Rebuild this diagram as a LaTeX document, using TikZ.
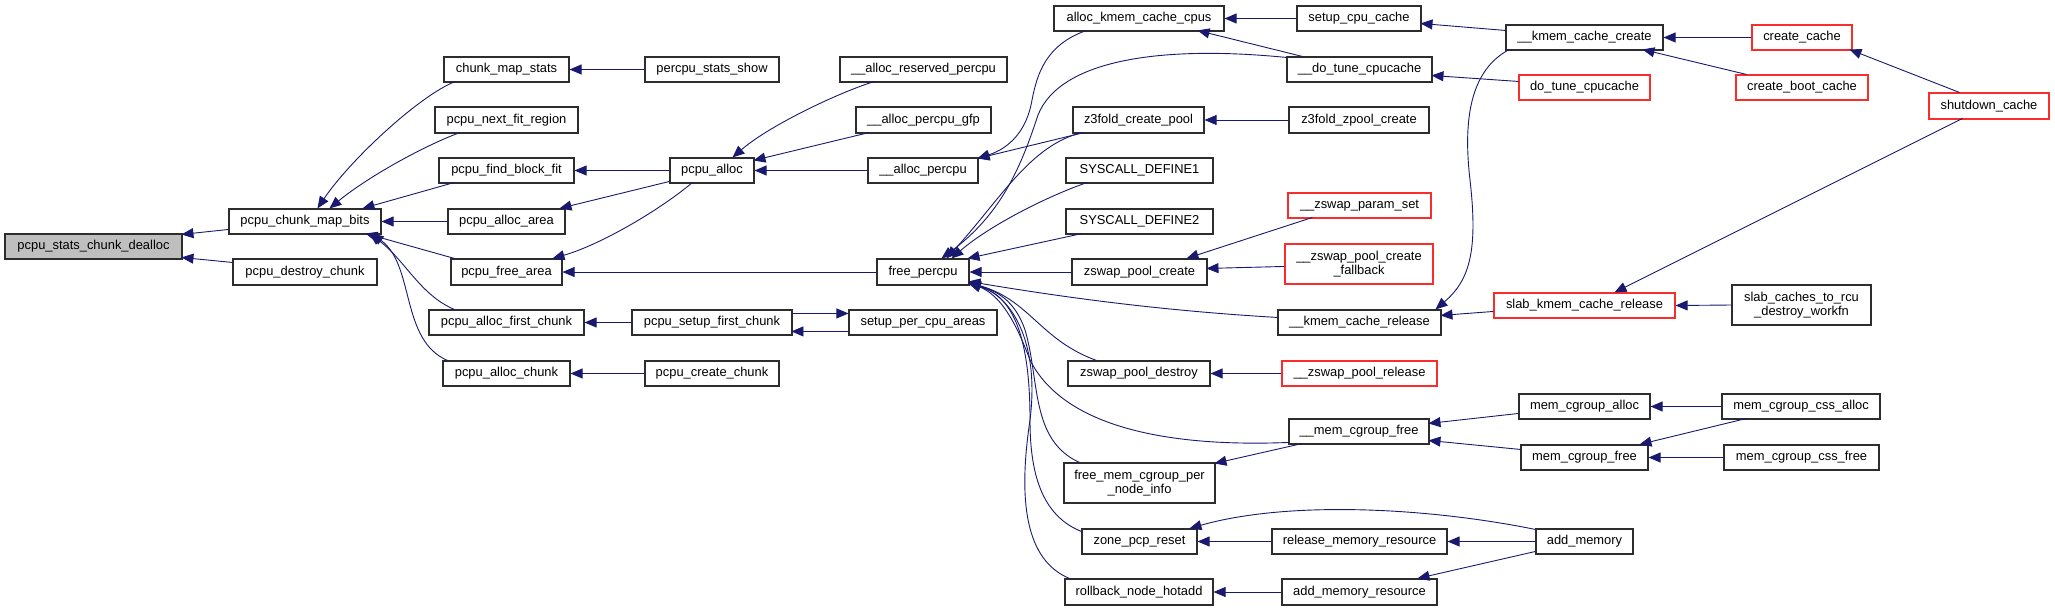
\documentclass[tikz,border=0pt]{standalone}
\usepackage{fontspec}
\setmainfont{Liberation Sans}
\usetikzlibrary{arrows.meta}
\definecolor{edgec}{RGB}{25,25,112}
\definecolor{redc}{RGB}{250,45,45}
\definecolor{rootfill}{RGB}{191,191,191}
\definecolor{bord}{RGB}{45,45,45}
\newcommand\mybox[7][]{\node[nbox,#1,minimum width={#4-#2},minimum height={#5-#3}] (#6) at ({(#2+#4)/2},{(#3+#5)/2}) {#7};}
\begin{document}
\begin{tikzpicture}[x=1pt,y=-1pt,
 nbox/.style={draw=bord,line width=1.1pt,fill=white,inner sep=0pt,align=center,font=\fontsize{12.9}{14.6}\selectfont},
 rbox/.style={draw=redc},
 gbox/.style={fill=rootfill},
 cedge/.style={draw=edgec,line width=0.9pt,-{Triangle[length=12pt,width=10pt]}}]
\useasboundingbox (0,0) rectangle (2055,611);
\fill[white] (0,0) rectangle (2055,611);
% nodes
\mybox[gbox]{5}{234}{182}{259}{dealloc}{pcpu\_stats\_chunk\_dealloc}
\mybox{229}{209}{381}{234}{cmb}{pcpu\_chunk\_map\_bits}
\mybox{233}{259}{377}{285}{destroy}{pcpu\_destroy\_chunk}
\mybox{444}{57}{569}{82}{cms}{chunk\_map\_stats}
\mybox{645}{57}{779}{82}{pss}{percpu\_stats\_show}
\mybox{435}{107}{578}{133}{nfr}{pcpu\_next\_fit\_region}
\mybox{439}{158}{574}{183}{fbf}{pcpu\_find\_block\_fit}
\mybox{670}{158}{754}{183}{palloc}{pcpu\_alloc}
\mybox{448}{209}{565}{234}{paa}{pcpu\_alloc\_area}
\mybox{451}{259}{562}{285}{pfa}{pcpu\_free\_area}
\mybox{877}{259}{969}{285}{fp}{free\_percpu}
\mybox{429}{310}{584}{335}{pafc}{pcpu\_alloc\_first\_chunk}
\mybox{632}{310}{792}{335}{psfc}{pcpu\_setup\_first\_chunk}
\mybox{849}{310}{997}{335}{spca}{setup\_per\_cpu\_areas}
\mybox{443}{361}{570}{386}{pac}{pcpu\_alloc\_chunk}
\mybox{645}{361}{779}{386}{pcc}{pcpu\_create\_chunk}
\mybox{840}{57}{1007}{82}{arp}{\_\_alloc\_reserved\_percpu}
\mybox{856}{107}{991}{133}{apg}{\_\_alloc\_percpu\_gfp}
\mybox{868}{158}{978}{183}{ap}{\_\_alloc\_percpu}
\mybox{1054}{6}{1224}{31}{akcc}{alloc\_kmem\_cache\_cpus}
\mybox{1297}{6}{1421}{31}{scc}{setup\_cpu\_cache}
\mybox{1287}{57}{1432}{82}{dtc}{\_\_do\_tune\_cpucache}
\mybox{1073}{107}{1204}{133}{zcp}{z3fold\_create\_pool}
\mybox{1289}{107}{1429}{133}{zzc}{z3fold\_zpool\_create}
\mybox{1066}{158}{1213}{183}{sda}{SYSCALL\_DEFINE1}
\mybox{1066}{209}{1213}{234}{sdb}{SYSCALL\_DEFINE2}
\mybox{1072}{259}{1207}{285}{zpc}{zswap\_pool\_create}
\mybox[rbox]{1288}{193}{1431}{218}{zps}{\_\_zswap\_param\_set}
\mybox[rbox]{1285}{244}{1433}{284}{zpcf}{\_\_zswap\_pool\_create\\\_fallback}
\mybox{1506}{25}{1663}{50}{kcc}{\_\_kmem\_cache\_create}
\mybox[rbox]{1752}{25}{1852}{50}{cc}{create\_cache}
\mybox[rbox]{1519}{75}{1650}{100}{dtcb}{do\_tune\_cpucache}
\mybox[rbox]{1736}{75}{1868}{100}{cbc}{create\_boot\_cache}
\mybox[rbox]{1929}{93}{2049}{119}{sc}{shutdown\_cache}
\mybox[rbox]{1494}{293}{1675}{318}{skcr}{slab\_kmem\_cache\_release}
\mybox{1732}{285}{1871}{325}{sctr}{slab\_caches\_to\_rcu\\\_destroy\_workfn}
\mybox{1278}{310}{1441}{335}{kcr}{\_\_kmem\_cache\_release}
\mybox{1068}{361}{1210}{386}{zpd}{zswap\_pool\_destroy}
\mybox[rbox]{1282}{361}{1437}{386}{zpr}{\_\_zswap\_pool\_release}
\mybox{1289}{419}{1429}{444}{mcf}{\_\_mem\_cgroup\_free}
\mybox{1064}{463}{1215}{503}{fmc}{free\_mem\_cgroup\_per\\\_node\_info}
\mybox{1082}{529}{1197}{554}{zpcr}{zone\_pcp\_reset}
\mybox{1272}{529}{1447}{554}{rmr}{release\_memory\_resource}
\mybox{1065}{579}{1213}{605}{rnh}{rollback\_node\_hotadd}
\mybox{1282}{579}{1437}{605}{amr}{add\_memory\_resource}
\mybox{1519}{394}{1650}{419}{mca}{mem\_cgroup\_alloc}
\mybox{1521}{445}{1648}{470}{mcfr}{mem\_cgroup\_free}
\mybox{1722}{394}{1880}{419}{mcsa}{mem\_cgroup\_css\_alloc}
\mybox{1724}{445}{1879}{470}{mcsf}{mem\_cgroup\_css\_free}
\mybox{1536}{529}{1633}{554}{am}{add\_memory}
% edges
\draw[cedge] ([shift={(0,21)}]cmb.north west) -- ([shift={(177,1)}]dealloc.north west);
\draw[cedge] ([shift={(0,4)}]destroy.north west) -- ([shift={(177,24)}]dealloc.north west);
\draw[cedge] ([shift={(12,25)}]cms.north west) .. controls (420,95) and (350,160) .. ([shift={(89,0)}]cmb.north west);
\draw[cedge] ([shift={(26,26)}]nfr.north west) .. controls (430,143) and (370,175) .. ([shift={(101,0)}]cmb.north west);
\draw[cedge] ([shift={(16,25)}]fbf.north west) -- ([shift={(134,0)}]cmb.north west);
\draw[cedge] (paa.west) -- (cmb.east);
\draw[cedge] ([shift={(4,0)}]pfa.north west) -- ([shift={(137,25)}]cmb.north west);
\draw[cedge] ([shift={(26,0)}]pafc.north west) .. controls (420,295) and (405,260) .. ([shift={(141,25)}]cmb.north west);
\draw[cedge] ([shift={(5,0)}]pac.north west) .. controls (400,340) and (415,265) .. ([shift={(143,25)}]cmb.north west);
\draw[cedge] (pss.west) -- (cms.east);
\draw[cedge] (palloc.west) -- (fbf.east);
\draw[cedge] ([shift={(0,24)}]palloc.north west) -- ([shift={(112,0)}]paa.north west);
\draw[cedge] ([shift={(23,25)}]palloc.north west) .. controls (660,210) and (600,245) .. ([shift={(102,0)}]pfa.north west);
\draw[cedge] (fp.west) -- (pfa.east);
\draw[cedge] (psfc.west) -- (pafc.east);
\draw[cedge] ([shift={(160,4)}]psfc.north west) -- ([shift={(0,4)}]spca.north west);
\draw[cedge] ([shift={(0,22)}]spca.north west) -- ([shift={(160,22)}]psfc.north west);
\draw[cedge] (pcc.west) -- (pac.east);
\draw[cedge] ([shift={(35,25)}]arp.north west) .. controls (840,92) and (770,125) .. ([shift={(63,0)}]palloc.north west);
\draw[cedge] ([shift={(14,26)}]apg.north west) -- ([shift={(84,3)}]palloc.north west);
\draw[cedge] (ap.west) -- (palloc.east);
\draw[cedge] ([shift={(33,25)}]akcc.north west) .. controls (1045,45) and (1037,75) .. (1032,100) .. controls (1027,130) and (1010,148) .. ([shift={(110,1)}]ap.north west);
\draw[cedge] ([shift={(12,26)}]zcp.north west) -- ([shift={(110,1)}]ap.north west);
\draw[cedge] (scc.west) -- (akcc.east);
\draw[cedge] ([shift={(16,0)}]dtc.north west) -- ([shift={(144,25)}]akcc.north west);
\draw[cedge] ([shift={(0,6)}]kcc.north west) -- ([shift={(124,18)}]scc.north west);
\draw[cedge] ([shift={(0,7)}]dtcb.north west) -- ([shift={(145,19)}]dtc.north west);
\draw[cedge] (zzc.west) -- (zcp.east);
\draw[cedge] ([shift={(0,1)}]dtc.north west) .. controls (1160,45) and (1060,60) .. (1038,115) .. controls (1020,170) and (1000,215) .. ([shift={(65,0)}]fp.north west);
\draw[cedge] ([shift={(10,26)}]zcp.north west) .. controls (1030,145) and (1000,200) .. ([shift={(70,0)}]fp.north west);
\draw[cedge] ([shift={(22,25)}]sda.north west) .. controls (1050,195) and (990,225) .. ([shift={(75,0)}]fp.north west);
\draw[cedge] ([shift={(17,25)}]sdb.north west) -- ([shift={(91,0)}]fp.north west);
\draw[cedge] (zpc.west) -- (fp.east);
\draw[cedge] ([shift={(0,8)}]kcr.north west) .. controls (1150,310) and (1050,295) .. ([shift={(92,23)}]fp.north west);
\draw[cedge] ([shift={(29,0)}]zpd.north west) .. controls (1040,340) and (1030,300) .. ([shift={(92,24)}]fp.north west);
\draw[cedge] ([shift={(0,24)}]mcf.north west) .. controls (1150,448) and (1060,420) .. (1030,360) .. controls (1015,320) and (1000,295) .. ([shift={(92,24)}]fp.north west);
\draw[cedge] ([shift={(16,0)}]fmc.north west) .. controls (1030,440) and (1040,380) .. (1025,330) .. controls (1015,300) and (995,290) .. ([shift={(92,25)}]fp.north west);
\draw[cedge] ([shift={(0,3)}]zpcr.north west) .. controls (1040,515) and (1030,470) .. (1030,420) .. controls (1030,330) and (1010,295) .. ([shift={(92,25)}]fp.north west);
\draw[cedge] ([shift={(5,0)}]rnh.north west) .. controls (1025,560) and (1018,500) .. (1030,420) .. controls (1040,340) and (1010,295) .. ([shift={(92,25)}]fp.north west);
\draw[cedge] ([shift={(25,25)}]zps.north west) -- ([shift={(115,0)}]zpc.north west);
\draw[cedge] ([shift={(0,23)}]zpcf.north west) -- ([shift={(135,10)}]zpc.north west);
\draw[cedge] ([shift={(4,25)}]kcc.north west) .. controls (1470,70) and (1463,120) .. (1470,180) .. controls (1478,250) and (1470,280) .. ([shift={(158,0)}]kcr.north west);
\draw[cedge] ([shift={(0,19)}]skcr.north west) -- ([shift={(163,6)}]kcr.north west);
\draw[cedge] ([shift={(34,26)}]sc.north west) -- ([shift={(121,0)}]skcr.north west);
\draw[cedge] ([shift={(31,0)}]sc.north west) -- ([shift={(98,25)}]cc.north west);
\draw[cedge] (cc.west) -- (kcc.east);
\draw[cedge] ([shift={(11,0)}]cbc.north west) -- ([shift={(137,25)}]kcc.north west);
\draw[cedge] (sctr.west) -- (skcr.east);
\draw[cedge] (zpr.west) -- (zpd.east);
\draw[cedge] ([shift={(0,20)}]mca.north west) -- ([shift={(140,5)}]mcf.north west);
\draw[cedge] ([shift={(0,5)}]mcfr.north west) -- ([shift={(140,22)}]mcf.north west);
\draw[cedge] (mcsa.west) -- (mca.east);
\draw[cedge] ([shift={(25,25)}]mcsa.north west) -- ([shift={(119,0)}]mcfr.north west);
\draw[cedge] (mcsf.west) -- (mcfr.east);
\draw[cedge] ([shift={(14,25)}]mcf.north west) -- ([shift={(151,1)}]fmc.north west);
\draw[cedge] ([shift={(0,1)}]am.north west) .. controls (1430,508) and (1290,500) .. ([shift={(108,0)}]zpcr.north west);
\draw[cedge] (rmr.west) -- (zpcr.east);
\draw[cedge] (am.west) -- (rmr.east);
\draw[cedge] ([shift={(0,23)}]am.north west) -- ([shift={(136,0)}]amr.north west);
\draw[cedge] (amr.west) -- (rnh.east);
\end{tikzpicture}
\end{document}
